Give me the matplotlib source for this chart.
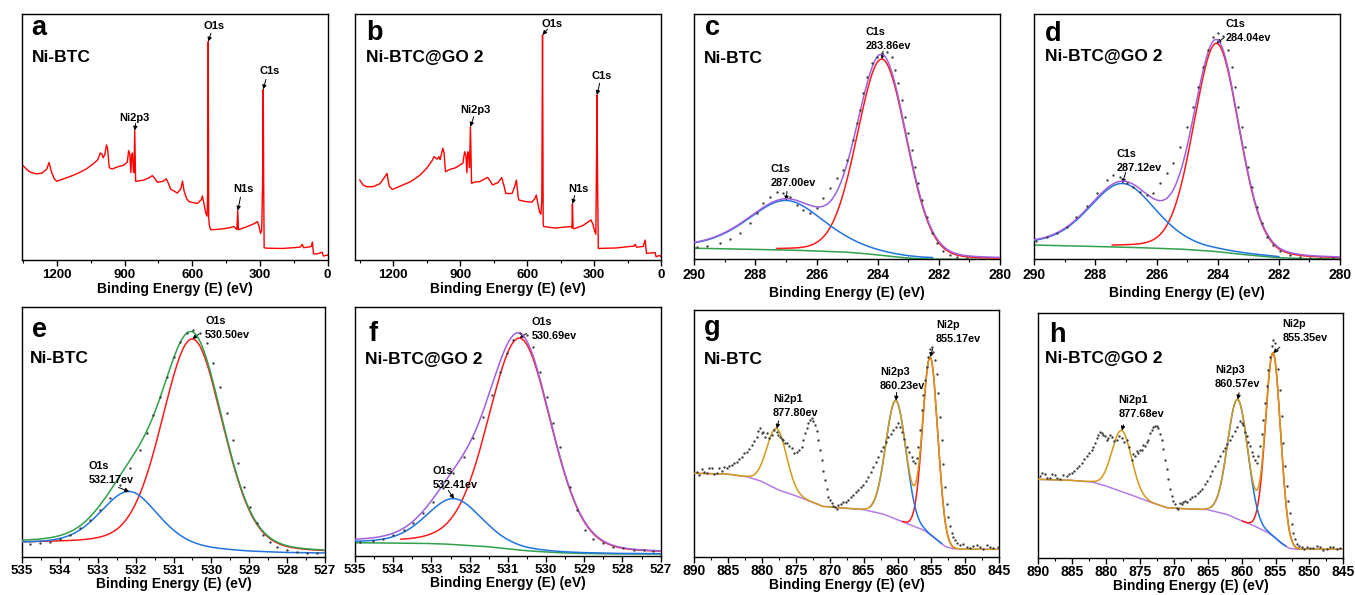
import numpy as np
import matplotlib
matplotlib.use("Agg")
import matplotlib.pyplot as plt
from matplotlib.transforms import offset_copy
from matplotlib.ticker import MultipleLocator

plt.rcParams["font.family"] = ["Liberation Sans", "DejaVu Sans"]
plt.rcParams["font.weight"] = "bold"
plt.rcParams["axes.labelweight"] = "bold"

# ---------------------------------------------------------------- survey a
survey_a_energy = [1350, 1330, 1315, 1290, 1265, 1245, 1235, 1225, 1212, 1200, 1170, 1140,
                   1108, 1070, 1040, 1019, 1008, 1000, 995, 988, 980, 975, 968, 955, 930,
                   905, 888, 882, 877, 872, 869, 865, 861, 858, 855, 851, 835, 814, 790,
                   777, 765, 755, 730, 715, 705, 696, 680, 666, 650, 643, 636, 625, 614,
                   590, 577, 560, 555, 548, 540, 534, 531, 529, 527, 524, 518, 480, 440,
                   415, 402, 398, 395, 380, 350, 325, 311, 303, 297, 292, 288, 285, 283,
                   281, 270, 200, 150, 120, 112, 106, 90, 72, 67, 62, 45, 35, 24, 18, 10, 0]
survey_a_counts = [38.3, 36.5, 35.6, 35.0, 35.4, 37.0, 39.6, 36.0, 33.0, 32.0, 33.0, 34.0,
                   35.2, 37.0, 39.0, 40.7, 43.5, 43.0, 41.5, 42.8, 46.8, 45.0, 37.5, 37.0, 37.9,
                   38.5, 39.8, 44.5, 43.0, 35.5, 42.5, 43.5, 36.0, 35.5, 52.6, 32.0, 32.2, 32.5, 33.5,
                   34.3, 33.0, 31.6, 32.0, 33.0, 31.0, 28.8, 28.0, 27.2, 29.0, 32.1, 28.0, 25.0, 23.7,
                   23.2, 23.0, 24.5, 26.0, 23.0, 19.0, 17.8, 30.0, 88.8, 17.0, 14.0, 12.3, 12.5, 13.0,
                   13.6, 12.4, 20.1, 12.3, 12.8, 13.8, 14.8, 15.6, 13.5, 10.8, 12.0, 30.0, 69.4, 30.0,
                   5.0, 4.8, 4.7, 5.0, 5.3, 6.4, 5.0, 5.2, 5.5, 7.3, 2.5, 2.5, 2.8, 3.2, 1.6, 1.8, 2.0]
# label, peak energy, text offset (px), arrow tail offset (px)
survey_a_notes = [("O1s", 529, (6, 16), (2.7, 8.3)),
                  ("C1s", 285, (6.3, 18.3), (2.7, 10)),
                  ("Ni2p3", 855, (0, 13), (1, 7.3)),
                  ("N1s", 398, (5.3, 21.7), (2.7, 13.3))]

# ---------------------------------------------------------------- survey b
survey_b_energy = [1350, 1335, 1320, 1290, 1260, 1240, 1228, 1218, 1204, 1170, 1123, 1080,
                   1050, 1025, 1017, 1003, 995, 990, 978, 972, 966, 947, 920, 895, 888,
                   880, 874, 870, 866, 862, 858, 854, 849, 830, 814, 790, 777, 765, 755,
                   730, 714, 703, 696, 680, 667, 655, 648, 640, 637, 610, 579, 565, 559,
                   552, 544, 538, 534, 531, 528, 526, 500, 475, 440, 402, 399, 397, 394,
                   390, 350, 314, 305, 299, 292, 289, 287, 284, 281, 200, 140, 122, 115,
                   110, 80, 71, 65, 40, 26, 22, 15, 5, 0]
survey_b_counts = [32.5, 30.5, 29.8, 29.8, 31.0, 33.5, 35.2, 30.0, 28.7, 30.0, 31.8, 34.5,
                   37.3, 40.5, 42.0, 41.0, 42.0, 40.8, 45.4, 43.5, 35.9, 36.8, 37.5, 39.0, 39.3,
                   44.0, 42.5, 35.5, 44.0, 43.0, 37.5, 54.2, 31.2, 31.8, 31.8, 33.0, 33.6, 32.0, 30.5,
                   31.5, 33.5, 30.0, 27.1, 27.0, 27.1, 30.0, 32.5, 25.5, 24.4, 23.8, 23.5, 25.0, 26.4,
                   23.0, 19.5, 18.6, 25.0, 91.5, 15.0, 13.6, 13.3, 13.0, 13.3, 13.6, 13.0, 22.8, 13.0,
                   12.7, 14.0, 16.3, 14.5, 12.2, 10.5, 40.0, 67.1, 30.0, 4.7, 4.9, 5.5, 5.6, 6.4,
                   5.2, 5.5, 8.1, 2.7, 2.9, 3.0, 1.3, 1.6, 1.8, 1.4]
survey_b_notes = [("O1s", 531, (10, 11), (5, 5.7)),
                  ("C1s", 287, (4.3, 19), (2.7, 11.7)),
                  ("Ni2p3", 854, (5, 16.7), (3.3, 10)),
                  ("N1s", 397, (6.3, 15), (2.3, 8.3))]

# ---------------------------------------------------------------- C1s, Ni-BTC (c)
c_bg_energy = [290, 289, 288, 287, 286, 285, 284.5, 284, 283.5, 283, 282.5, 282, 281, 280]
c_bg_counts = [4.5, 4.3, 4.0, 3.8, 3.4, 2.9, 2.4, 1.8, 1.1, 0.5, 0.15, 0.0, 0.0, 0.0]
c_centers = [283.86, 287.00]
c_heights = [80.0, 20.2]
c_fwhm = [1.9, 3.0]
c_eta = [0.1, 0.35]
c_dots_energy = [289.92, 289.60, 289.16, 288.83, 288.51, 288.18, 287.96, 287.74, 287.52, 287.31,
                 287.09, 286.87, 286.65, 286.43, 286.22, 286.00, 285.78, 285.56, 285.34, 285.13,
                 285.02, 284.80, 284.69, 284.58, 284.47, 284.36, 284.20, 284.03, 283.87, 283.71,
                 283.54, 283.44, 283.33, 283.22, 283.11, 283.00, 282.89, 282.78, 282.67, 282.56,
                 282.40, 282.24, 282.07, 281.85, 281.64, 281.42, 281.09, 280.76, 280.44]
c_dots_counts = [4.9, 5.4, 6.5, 8.2, 10.6, 14.7, 18.8, 22.8, 25.5, 27.3,
                 26.9, 25.5, 22.1, 20.1, 18.8, 20.8, 24.9, 28.9, 33.0, 36.4,
                 40.5, 48.6, 55.4, 60.9, 67.7, 74.5, 79.9, 82.6, 84.2, 84.6,
                 82.6, 77.2, 71.7, 64.9, 58.2, 51.4, 44.6, 37.8, 31.0, 24.2,
                 17.4, 10.6, 6.5, 3.5, 1.8, 0.8, 0.4, 0.3, 0.3]
c_notes = ["C1s\n283.86ev", "C1s\n287.00ev"]

# ---------------------------------------------------------------- C1s, Ni-BTC@GO 2 (d)
d_bg_energy = [290, 289, 288, 287, 286, 285, 284, 283, 282, 281, 280]
d_bg_counts = [5.7, 5.4, 5.1, 4.8, 4.4, 3.9, 3.0, 1.6, 0.5, 0.1, 0.0]
d_centers = [284.04, 287.12]
d_heights = [85.0, 26.0]
d_fwhm = [1.75, 2.6]
d_eta = [0.15, 0.3]
d_dots_energy = [289.95, 289.60, 289.27, 288.94, 288.62, 288.29, 287.96, 287.63, 287.42, 287.20,
                 286.98, 286.76, 286.54, 286.32, 286.11, 285.89, 285.67, 285.45, 285.23, 285.02,
                 284.80, 284.63, 284.47, 284.31, 284.14, 283.98, 283.82, 283.65, 283.54, 283.44,
                 283.33, 283.22, 283.11, 283.00, 282.89, 282.73, 282.56, 282.40, 282.18, 281.96,
                 281.64, 281.31, 280.98, 280.65, 280.22]
d_dots_counts = [7.5, 8.8, 10.7, 13.2, 17.0, 21.6, 26.8, 32.2, 34.3, 33.6,
                 31.2, 29.3, 27.5, 26.1, 27.1, 30.9, 35.0, 39.3, 45.9, 54.0,
                 62.2, 70.3, 78.5, 85.3, 90.5, 92.1, 91.0, 85.3, 78.5, 70.3,
                 62.2, 54.0, 45.9, 37.7, 29.5, 21.4, 14.6, 9.1, 5.7, 3.4,
                 1.6, 1.0, 0.5, 0.4, 0.3]
d_notes = ["C1s\n284.04ev", "C1s\n287.12ev"]

# ---------------------------------------------------------------- O1s, Ni-BTC (e)
e_bg_energy = [535, 534, 533, 532, 531, 530, 529, 528, 527]
e_bg_counts = [5.3, 5.2, 5.0, 4.5, 3.6, 2.6, 1.8, 1.4, 1.3]
e_centers = [530.50, 532.17]
e_heights = [84.0, 21.5]
e_fwhm = [1.9, 1.8]
e_eta = [0.2, 0.3]
e_dots_energy = [534.79, 534.52, 534.26, 534.00, 533.73, 533.47, 533.20, 532.94, 532.68, 532.41,
                 532.15, 531.88, 531.71, 531.53, 531.36, 531.18, 531.00, 530.83, 530.65, 530.48,
                 530.30, 530.12, 529.95, 529.77, 529.60, 529.42, 529.29, 529.15, 528.98, 528.80,
                 528.63, 528.45, 528.27, 528.01, 527.75, 527.48, 527.22]
e_dots_counts = [5.1, 5.3, 6.0, 6.9, 8.7, 11.3, 14.7, 18.7, 23.3, 28.7,
                 35.3, 42.7, 49.3, 56.7, 64.0, 72.0, 80.0, 86.0, 89.6, 90.7,
                 89.3, 85.3, 77.3, 68.0, 57.3, 46.7, 37.3, 28.0, 20.0, 13.6,
                 8.7, 6.0, 4.0, 2.7, 2.0, 1.6, 1.5]
e_notes = ["O1s\n530.50ev", "O1s\n532.17ev"]

# ---------------------------------------------------------------- O1s, Ni-BTC@GO 2 (f)
f_bg_energy = [535, 534, 533, 532.5, 532, 531.5, 531, 530.5, 530, 529.5, 529, 528, 527]
f_bg_counts = [5.3, 5.2, 5.0, 4.7, 4.2, 3.7, 2.9, 2.1, 1.6, 1.2, 1.0, 0.8, 0.8]
f_centers = [530.69, 532.41]
f_heights = [85.0, 18.4]
f_fwhm = [1.95, 1.75]
f_eta = [0.2, 0.3]
f_dots_energy = [534.87, 534.52, 534.26, 534.00, 533.73, 533.47, 533.21, 532.95, 532.69, 532.43,
                 532.16, 531.90, 531.64, 531.42, 531.20, 531.03, 530.86, 530.68, 530.51, 530.33,
                 530.16, 529.98, 529.81, 529.63, 529.37, 529.20, 528.98, 528.76, 528.50, 528.24,
                 527.98, 527.71, 527.45, 527.19]
f_dots_counts = [5.5, 6.1, 7.0, 8.4, 10.4, 13.4, 17.1, 21.8, 27.1, 33.2,
                 39.8, 47.2, 55.9, 64.6, 74.0, 81.3, 86.6, 89.6, 88.6, 84.0,
                 74.0, 63.9, 53.2, 43.9, 27.8, 18.4, 10.4, 6.7, 5.1, 3.7,
                 3.1, 2.5, 2.3, 2.0]
f_notes = ["O1s\n530.69ev", "O1s\n532.41ev"]

# ---------------------------------------------------------------- Ni2p, Ni-BTC (g)
g_bg_energy = [890, 885, 882, 880, 877.5, 875, 873, 871, 868, 865, 862, 860, 858, 856, 854, 853, 852, 850, 845]
g_bg_counts = [33.8, 33.5, 32.3, 30.5, 27.0, 24.7, 22.6, 20.4, 19.7, 19.1, 17.2, 15.0, 12.8, 10.6, 6.5, 4.2, 3.3, 3.0, 3.0]
g_centers = [855.17, 860.23, 877.80]
g_heights = [72.0, 48.0, 24.5]
g_fwhm = [2.6, 3.5, 3.4]
g_eta = [0.0, 0.0, 0.0]
g_dots_energy = [889.61, 889.20, 888.87, 888.50, 888.13, 887.75, 887.40, 887.02, 886.66, 886.30,
                 885.92, 885.55, 885.19, 884.82, 884.45, 884.08, 883.71, 883.35, 882.98, 882.60,
                 882.24, 881.87, 881.50, 881.13, 880.77, 880.50, 880.27, 880.02, 879.78, 879.53,
                 879.29, 878.92, 878.56, 878.19, 877.82, 877.57, 877.33, 877.08, 876.84, 876.60,
                 876.35, 875.98, 875.61, 875.24, 874.87, 874.50, 874.14, 873.89, 873.64, 873.40,
                 873.15, 872.90, 872.66, 872.42, 872.17, 871.93, 871.68, 871.44, 871.19, 870.95,
                 870.70, 870.46, 870.21, 869.97, 869.72, 869.47, 869.22, 868.98, 868.73, 868.37,
                 868.00, 867.63, 867.26, 866.89, 866.52, 866.15, 865.79, 865.42, 865.05, 864.68,
                 864.31, 863.95, 863.58, 863.21, 862.84, 862.47, 862.10, 861.73, 861.37, 861.00,
                 860.63, 860.26, 859.89, 859.64, 859.40, 859.03, 858.67, 858.30, 857.93, 857.69,
                 857.44, 857.19, 856.94, 856.70, 856.45, 856.21, 855.96, 855.72, 855.47, 855.23,
                 854.98, 854.74, 854.49, 854.25, 854.00, 853.76, 853.51, 853.27, 853.02, 852.77,
                 852.52, 852.28, 852.03, 851.79, 851.54, 851.17, 850.81, 850.31, 849.82, 849.33,
                 848.84, 848.35, 847.86, 847.37, 846.88, 846.38, 845.89, 845.16]
g_dots_counts = [34.5, 33.2, 35.4, 34.2, 33.8, 36.1, 35.8, 33.5, 34.1, 35.9,
                 34.9, 36.3, 35.8, 36.6, 37.2, 37.9, 38.5, 39.8, 40.5, 41.9,
                 42.6, 43.6, 45.3, 47.1, 48.6, 50.9, 52.0, 50.2, 50.7, 48.4,
                 50.0, 48.2, 49.3, 51.3, 50.7, 49.5, 48.6, 47.8, 47.3, 46.0,
                 45.9, 44.7, 43.9, 42.1, 42.6, 43.2, 44.6, 47.5, 50.0, 52.3,
                 54.1, 55.3, 56.1, 55.2, 53.4, 50.8, 47.3, 43.1, 39.2, 34.9,
                 31.1, 27.4, 24.3, 22.9, 21.6, 20.6, 20.3, 19.4, 20.9, 21.5,
                 22.3, 22.1, 23.0, 24.3, 25.0, 26.2, 27.0, 28.4, 29.1, 30.6,
                 32.4, 34.2, 36.5, 38.2, 40.5, 42.8, 44.6, 46.3, 48.6, 49.9,
                 51.4, 52.5, 54.1, 52.6, 50.7, 47.9, 44.6, 42.4, 40.5, 38.9,
                 37.8, 40.2, 44.6, 51.5, 59.5, 65.4, 71.6, 76.8, 81.1, 84.2,
                 85.1, 83.0, 79.7, 73.9, 66.2, 56.5, 47.3, 37.6, 28.4, 21.5,
                 16.2, 12.4, 9.5, 7.9, 6.8, 5.6, 4.7, 5.3, 4.1, 3.5,
                 4.3, 4.9, 3.8, 3.3, 4.7, 4.0, 3.4, 4.1]
g_notes = ["Ni2p\n855.17ev", "Ni2p3\n860.23ev", "Ni2p1\n877.80ev"]

# ---------------------------------------------------------------- Ni2p, Ni-BTC@GO 2 (h)
h_bg_energy = [890, 885, 882, 880, 877.5, 875, 873, 871, 868, 865, 862, 860, 858, 856, 855, 854, 853, 852, 845]
h_bg_counts = [32.0, 31.6, 30.9, 29.3, 26.8, 24.3, 22.2, 20.4, 19.9, 19.6, 17.5, 15.0, 12.8, 10.0, 8.0, 5.6, 3.8, 3.4, 3.4]
h_centers = [855.35, 860.57, 877.68]
h_heights = [75.0, 49.0, 25.0]
h_fwhm = [2.6, 3.5, 3.4]
h_eta = [0.0, 0.0, 0.0]
h_dots_energy = [889.75, 889.39, 889.02, 888.65, 888.28, 887.91, 887.54, 887.17, 886.80, 886.31,
                 885.82, 885.45, 885.08, 884.71, 884.34, 883.98, 883.61, 883.24, 882.87, 882.50,
                 882.13, 881.89, 881.64, 881.40, 881.15, 880.90, 880.65, 880.41, 880.16, 879.92,
                 879.67, 879.43, 879.18, 878.81, 878.44, 878.07, 877.70, 877.34, 876.97, 876.60,
                 876.23, 875.99, 875.74, 875.49, 875.24, 875.00, 874.75, 874.51, 874.26, 874.02,
                 873.77, 873.53, 873.28, 873.03, 872.78, 872.54, 872.29, 872.05, 871.80, 871.56,
                 871.31, 871.07, 870.82, 870.57, 870.32, 870.08, 869.83, 869.59, 869.34, 869.10,
                 868.85, 868.61, 868.36, 867.99, 867.62, 867.25, 866.88, 866.51, 866.14, 865.78,
                 865.41, 865.04, 864.67, 864.30, 863.93, 863.56, 863.19, 862.82, 862.45, 862.09,
                 861.72, 861.35, 860.98, 860.61, 860.24, 860.00, 859.75, 859.51, 859.26, 859.02,
                 858.77, 858.52, 858.27, 858.03, 857.78, 857.54, 857.29, 857.05, 856.80, 856.56,
                 856.31, 856.06, 855.81, 855.57, 855.32, 855.08, 854.83, 854.59, 854.34, 854.10,
                 853.85, 853.60, 853.35, 853.11, 852.86, 852.62, 852.37, 852.13, 851.88, 851.51,
                 851.14, 850.77, 850.40, 849.91, 849.42, 848.93, 848.44, 847.95, 847.45, 846.96,
                 846.47, 845.98, 845.48]
h_dots_counts = [33.3, 34.6, 34.0, 32.4, 32.7, 34.1, 33.6, 32.6, 32.0, 33.9,
                 33.3, 34.2, 34.7, 35.5, 36.7, 37.4, 38.8, 40.3, 41.5, 42.6,
                 44.2, 45.3, 46.9, 48.8, 50.3, 51.4, 51.0, 50.1, 49.7, 48.2,
                 49.0, 50.2, 49.4, 47.6, 48.3, 49.6, 49.0, 47.5, 48.3, 45.2,
                 40.1, 42.4, 41.5, 43.6, 42.9, 44.1, 44.2, 46.0, 45.6, 47.2,
                 48.3, 50.8, 52.4, 53.6, 54.0, 53.9, 53.1, 50.6, 48.3, 44.4,
                 40.1, 36.1, 32.0, 28.2, 25.2, 23.1, 21.8, 20.4, 19.7, 22.3,
                 21.8, 22.6, 23.1, 22.8, 23.8, 24.9, 25.2, 26.4, 27.2, 28.1,
                 29.9, 31.4, 33.3, 35.6, 37.4, 39.6, 41.5, 43.5, 44.9, 46.5,
                 48.3, 49.9, 51.7, 53.4, 55.8, 54.9, 54.4, 51.5, 49.7, 47.1,
                 45.6, 43.1, 41.5, 39.9, 38.8, 41.4, 45.6, 50.7, 56.5, 63.4,
                 70.1, 76.9, 82.3, 86.5, 89.1, 87.8, 85.0, 77.2, 68.7, 57.9,
                 46.9, 37.5, 29.3, 23.2, 18.4, 13.8, 10.2, 7.4, 5.4, 4.6,
                 4.1, 3.5, 4.5, 3.9, 3.7, 4.6, 4.1, 3.2, 3.4, 4.4,
                 4.1, 3.3, 3.7]
h_notes = ["Ni2p\n855.35ev", "Ni2p3\n860.57ev", "Ni2p1\n877.68ev"]

RED = "#ff1a1a"
BLUE = "#1f74e0"
GREEN = "#2fa14a"
PURPLE = "#a05fe0"
LILAC = "#b47ce8"
GOLD = "#d29a18"
DOT = "#3c3c3c"

W, H = 1355, 595
fig = plt.figure(figsize=(W / 100, H / 100), dpi=100)


def shifted(base, dx, dy):
    return offset_copy(base, fig=fig, x=dx, y=dy, units="dots")


def panel(box, xlim, major, minor, tick_size, tick_pad, labelpad):
    left, top, right, bottom = box
    ax = fig.add_axes([left / W, 1 - bottom / H, (right - left) / W, (bottom - top) / H])
    ax.set_xlim(*xlim)
    ax.set_ylim(0, 100)
    ax.set_yticks([])
    ax.xaxis.set_major_locator(MultipleLocator(major))
    ax.xaxis.set_minor_locator(MultipleLocator(minor))
    ax.tick_params(axis="x", which="major", direction="out", length=4, width=1,
                   labelsize=tick_size, pad=tick_pad)
    ax.tick_params(axis="x", which="minor", direction="out", length=2.5, width=0.8)
    for sp in ax.spines.values():
        sp.set_linewidth(1.0)
    ax.set_xlabel("Binding Energy (E) (eV)", fontsize=10, fontweight="bold", labelpad=labelpad)
    return ax


def tag(ax, letter, name, lx, ly, nx, ny):
    ax.text(0, 1, letter, transform=shifted(ax.transAxes, lx, -ly), fontsize=19.5,
            fontweight="bold", ha="left", va="baseline")
    ax.text(0, 1, name, transform=shifted(ax.transAxes, nx, -ny), fontsize=12.5,
            fontweight="bold", ha="left", va="baseline")


def arrow(ax, x, y, tail):
    ax.annotate("", xy=(x, y), xytext=tail, textcoords="offset pixels",
                arrowprops=dict(arrowstyle="-|>", color="black", lw=0.7,
                                mutation_scale=6, shrinkA=0, shrinkB=0))


def survey(ax, energy, counts, notes):
    ax.plot(energy, counts, color="#ff0000", lw=1.0)
    for text, e0, toff, tail in notes:
        y0 = counts[energy.index(e0)]
        ax.annotate(text, xy=(e0, y0), xytext=toff, textcoords="offset pixels",
                    ha="center", va="center", fontsize=8, fontweight="bold")
        arrow(ax, e0, y0, tail)


def pseudo_voigt(E, center, height, fwhm, eta):
    u = 2.0 * (E - center) / fwhm
    return height * (eta / (1.0 + u ** 2) + (1.0 - eta) * np.exp(-np.log(2) * u ** 2))


def fitted(ax, xlim, bg_e, bg_c, centers, heights, fwhm, eta, comp_colors, comp_windows,
           env_color, bg_color, dots_e, dots_c, notes, note_offsets):
    grid = np.linspace(min(xlim), max(xlim), 800)
    bg = np.interp(grid, bg_e[::-1], bg_c[::-1])
    comps = [pseudo_voigt(grid, c, h, w, k) for c, h, w, k in zip(centers, heights, fwhm, eta)]
    env = bg + np.sum(comps, axis=0)
    if bg_color:
        ax.plot(grid, bg, color=bg_color, lw=1.1, zorder=2)
    for comp, col, win in zip(comps, comp_colors, comp_windows):
        if col is None:
            continue
        m = (grid >= win[0]) & (grid <= win[1])
        ax.plot(grid[m], (bg + comp)[m], color=col, lw=1.1, zorder=3)
    ax.plot(grid, env, color=env_color, lw=1.1, zorder=4)
    ax.plot(dots_e, dots_c, ls="none", marker="o", ms=1.7, mew=0, color=DOT, zorder=5)
    for text, c, h, (toff, tail) in zip(notes, centers, heights, note_offsets):
        y0 = np.interp(c, bg_e[::-1], bg_c[::-1]) + h
        ax.annotate(text, xy=(c, y0), xytext=toff, textcoords="offset pixels",
                    ha="left", va="bottom", fontsize=7.8, fontweight="bold",
                    linespacing=1.5, zorder=6)
        arrow(ax, c, y0, tail)


# (a) survey, Ni-BTC
ax = panel((22, 14, 327.5, 260), (1355, 0), 300, 150, 9.5, 2.5, 0.5)
survey(ax, survey_a_energy, survey_a_counts, survey_a_notes)
tag(ax, "a", "Ni-BTC", 9.7, 21, 9.7, 47.7)

# (b) survey, Ni-BTC@GO 2
ax = panel((355.3, 14, 661, 260), (1370, 0), 300, 150, 9.5, 2.5, 0.5)
survey(ax, survey_b_energy, survey_b_counts, survey_b_notes)
tag(ax, "b", "Ni-BTC@GO 2", 11.4, 26, 10.7, 47.7)

# (c) C1s, Ni-BTC
ax = panel((694.3, 14, 1000, 259.3), (290, 280), 2, 1, 10, 2.5, 2.5)
fitted(ax, (290, 280), c_bg_energy, c_bg_counts, c_centers, c_heights, c_fwhm, c_eta,
       [RED, BLUE], [(280, 287.3), (282.2, 290)], PURPLE, GREEN,
       c_dots_energy, c_dots_counts, c_notes,
       [((-16, 8), (1, 8)), ((-15.7, 12), (1, 9))])
tag(ax, "c", "Ni-BTC", 10.7, 21, 9.7, 49.3)

# (d) C1s, Ni-BTC@GO 2
ax = panel((1034.3, 14, 1340, 259), (290, 280), 2, 1, 10, 2.5, 2.5)
fitted(ax, (290, 280), d_bg_energy, d_bg_counts, d_centers, d_heights, d_fwhm, d_eta,
       [RED, BLUE], [(280, 287.45), (282.0, 290)], PURPLE, GREEN,
       d_dots_energy, d_dots_counts, d_notes,
       [((9, 0), (7.7, 5.7)), ((-5.7, 10.7), (3.3, 11))])
tag(ax, "d", "Ni-BTC@GO 2", 10.7, 26.7, 10.7, 47)

# (e) O1s, Ni-BTC
ax = panel((22, 306.7, 325, 556.7), (535, 527), 1, 0.5, 9.5, 2, 0)
fitted(ax, (535, 527), e_bg_energy, e_bg_counts, e_centers, e_heights, e_fwhm, e_eta,
       [RED, BLUE], [(527, 535), (527, 535)], GREEN, None,
       e_dots_energy, e_dots_counts, e_notes,
       [((12.7, -1), (6.7, 5)), ((-40.7, 6.3), (-10.7, 4))])
tag(ax, "e", "Ni-BTC", 9.7, 30, 8, 56.6)

# (f) O1s, Ni-BTC@GO 2
ax = panel((355, 306.7, 660.7, 556), (535, 527), 1, 0.5, 9.5, 2, 0)
fitted(ax, (535, 527), f_bg_energy, f_bg_counts, f_centers, f_heights, f_fwhm, f_eta,
       [RED, BLUE], [(527, 533.8), (527, 535)], PURPLE, GREEN,
       f_dots_energy, f_dots_counts, f_notes,
       [((11.7, -3), (6.7, 4.7)), ((-21, 9), (-5.7, 8.3))])
tag(ax, "f", "Ni-BTC@GO 2", 13.3, 34, 10, 57.3)

# (g) Ni2p, Ni-BTC
ax = panel((694, 310, 999.3, 556.7), (890, 845), 5, 2.5, 10, 1.5, 0)
fitted(ax, (890, 845), g_bg_energy, g_bg_counts, g_centers, g_heights, g_fwhm, g_eta,
       [RED, BLUE, None], [(851.5, 859.3), (853.5, 864.2), None], GOLD, LILAC,
       g_dots_energy, g_dots_counts, g_notes,
       [((5.7, 13), (2.3, 8.3)), ((-16, 9.7), (0.7, 8.3)), ((-4, 10.7), (2, 7.7))])
tag(ax, "g", "Ni-BTC", 10, 25, 10, 54)

# (h) Ni2p, Ni-BTC@GO 2
ax = panel((1038.3, 313.3, 1343.3, 557.5), (890, 845), 5, 2.5, 10, 1.5, 0)
fitted(ax, (890, 845), h_bg_energy, h_bg_counts, h_centers, h_heights, h_fwhm, h_eta,
       [RED, BLUE, None], [(851.5, 859.9), (853.5, 864.5), None], GOLD, LILAC,
       h_dots_energy, h_dots_counts, h_notes,
       [((9.3, 10), (6.7, 6)), ((-22.7, 10.3), (1.3, 6.7)), ((-3.3, 11.3), (1.7, 5.7))])
tag(ax, "h", "Ni-BTC@GO 2", 11, 28.4, 6.7, 49.3)

fig.savefig("out.png", dpi=100)
